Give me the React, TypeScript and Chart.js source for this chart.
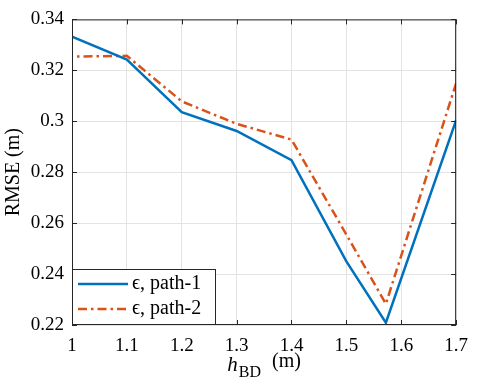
import React, { useEffect, useRef } from 'react';
import { Chart, registerables } from 'chart.js';
Chart.register(...registerables);

const xValues = [1, 1.1, 1.2, 1.3, 1.4, 1.5, 1.572, 1.7];
const path1 = [0.3332, 0.3242, 0.3036, 0.2962, 0.2847, 0.2450, 0.2209, 0.3004];
const path2 = [0.3254, 0.3257, 0.3078, 0.2990, 0.2928, 0.2555, 0.2283, 0.3149];
const seriesLabels = ['ϵ, path-1', 'ϵ, path-2'];
const xTicks = [1, 1.1, 1.2, 1.3, 1.4, 1.5, 1.6, 1.7];
const yTicks = [0.22, 0.24, 0.26, 0.28, 0.3, 0.32, 0.34];
const xTitle = { main: 'h', sub: 'BD', unit: '(m)' };
const yTitle = 'RMSE (m)';

const FONT = "'Liberation Serif', 'DejaVu Serif', serif";
const BLUE = '#0072BD';
const ORANGE = '#D95319';
const AXIS = '#262626';
const DASH = [9, 4, 2.5, 4];
const LW = 2.5;

const decorPlugin = {
  id: 'decor',
  afterDatasetsDraw(chart: any) {
    const ctx = chart.ctx;
    const { left, right, top, bottom } = chart.chartArea;
    const xs = chart.scales.x;
    const ys = chart.scales.y;
    ctx.save();
    ctx.strokeStyle = AXIS;
    ctx.lineWidth = 1;
    ctx.strokeRect(left + 0.5, top + 0.5, right - left - 1, bottom - top - 1);
    const tl = 5;
    ctx.beginPath();
    xs.ticks.forEach((t: any) => {
      const px = Math.round(xs.getPixelForValue(t.value)) + 0.5;
      ctx.moveTo(px, bottom);
      ctx.lineTo(px, bottom - tl);
      ctx.moveTo(px, top);
      ctx.lineTo(px, top + tl);
    });
    ys.ticks.forEach((t: any) => {
      const py = Math.round(ys.getPixelForValue(t.value)) + 0.5;
      ctx.moveTo(left, py);
      ctx.lineTo(left + tl, py);
      ctx.moveTo(right, py);
      ctx.lineTo(right - tl, py);
    });
    ctx.stroke();

    // legend
    const lx = left, lw = 144, lh = 56;
    const ly = bottom - lh;
    ctx.fillStyle = '#ffffff';
    ctx.fillRect(lx, ly, lw, lh);
    ctx.strokeStyle = AXIS;
    ctx.lineWidth = 1;
    ctx.strokeRect(lx + 0.5, ly + 0.5, lw - 1, lh - 1);
    const rows = [ly + 15, ly + 40];
    const colors = [BLUE, ORANGE];
    const dashes = [[], DASH];
    ctx.font = `20px ${FONT}`;
    ctx.textBaseline = 'middle';
    ctx.textAlign = 'left';
    rows.forEach((ry, i) => {
      ctx.strokeStyle = colors[i];
      ctx.lineWidth = LW;
      ctx.setLineDash(dashes[i]);
      ctx.beginPath();
      ctx.moveTo(lx + 6, ry);
      ctx.lineTo(lx + 56, ry);
      ctx.stroke();
      ctx.setLineDash([]);
      ctx.fillStyle = '#000000';
      ctx.fillText(seriesLabels[i], lx + 60, ry);
    });
    ctx.restore();
  },
  afterDraw(chart: any) {
    const ctx = chart.ctx;
    const { left, right, top, bottom } = chart.chartArea;
    ctx.save();
    ctx.fillStyle = '#000000';
    ctx.translate(14, (top + bottom) / 2);
    ctx.rotate(-Math.PI / 2);
    ctx.font = `20px ${FONT}`;
    ctx.textAlign = 'center';
    ctx.textBaseline = 'middle';
    ctx.fillText(yTitle, 0, 0);
    ctx.restore();

    ctx.save();
    ctx.fillStyle = '#000000';
    ctx.textBaseline = 'alphabetic';
    ctx.textAlign = 'left';
    const mainFont = `italic 21px ${FONT}`;
    const subFont = `16px ${FONT}`;
    const unitFont = `20px ${FONT}`;
    ctx.font = mainFont;
    const w1 = ctx.measureText(xTitle.main).width;
    ctx.font = subFont;
    const w2 = ctx.measureText(xTitle.sub).width;
    ctx.font = unitFont;
    const w3 = ctx.measureText('  ' + xTitle.unit).width;
    const total = w1 + w2 + w3 + 2;
    let x0 = (left + right) / 2 - total / 2;
    const base = 371;
    ctx.font = mainFont;
    ctx.fillText(xTitle.main, x0, base);
    x0 += w1 + 1;
    ctx.font = subFont;
    ctx.fillText(xTitle.sub, x0, base + 6);
    x0 += w2 + 1;
    ctx.font = unitFont;
    ctx.fillText('  ' + xTitle.unit, x0, base - 4);
    ctx.restore();
  },
};

export default function App() {
  const ref = useRef<HTMLCanvasElement | null>(null);
  useEffect(() => {
    if (!ref.current) return;
    const chart = new Chart(ref.current, {
      type: 'line',
      data: {
        datasets: [
          {
            label: seriesLabels[0],
            data: xValues.map((x, i) => ({ x, y: path1[i] })),
            borderColor: BLUE,
            borderWidth: LW,
            pointRadius: 0,
            tension: 0,
            fill: false,
          },
          {
            label: seriesLabels[1],
            data: xValues.map((x, i) => ({ x, y: path2[i] })),
            borderColor: ORANGE,
            borderWidth: LW,
            borderDash: DASH,
            borderDashOffset: 8,
            pointRadius: 0,
            tension: 0,
            fill: false,
          },
        ],
      },
      options: {
        animation: false,
        responsive: false,
        maintainAspectRatio: false,
        layout: { padding: { top: 13, right: 13, left: 0, bottom: 0 } },
        plugins: { legend: { display: false }, tooltip: { enabled: false } },
        scales: {
          x: {
            type: 'linear',
            min: 1,
            max: 1.7,
            afterFit: (s: any) => { s.height = 57; },
            afterBuildTicks: (s: any) => {
              s.ticks = xTicks.map((v) => ({ value: v }));
            },
            ticks: {
              font: { family: FONT, size: 19 },
              color: '#000000',
              padding: 10,
              maxRotation: 0,
              callback: (v: any) => Number(Number(v).toFixed(1)).toString(),
            },
            grid: { color: '#e3e3e3', drawTicks: false, lineWidth: 1 },
            border: { display: false },
          },
          y: {
            type: 'linear',
            min: 0.22,
            max: 0.34,
            afterFit: (s: any) => { s.width = 72; },
            afterBuildTicks: (s: any) => {
              s.ticks = yTicks.map((v) => ({ value: v }));
            },
            ticks: {
              font: { family: FONT, size: 19 },
              color: '#000000',
              padding: 8,
              callback: (v: any) => Number(Number(v).toFixed(2)).toString(),
            },
            grid: { color: '#e3e3e3', drawTicks: false, lineWidth: 1 },
            border: { display: false },
          },
        },
      },
      plugins: [decorPlugin],
    } as any);
    return () => chart.destroy();
  }, []);
  return (
    <div style={{ position: 'absolute', left: 0, top: 0, width: 478, height: 382, background: '#ffffff' }}>
      <canvas ref={ref} width={478} height={382} style={{ width: 478, height: 382, display: 'block' }} />
    </div>
  );
}
